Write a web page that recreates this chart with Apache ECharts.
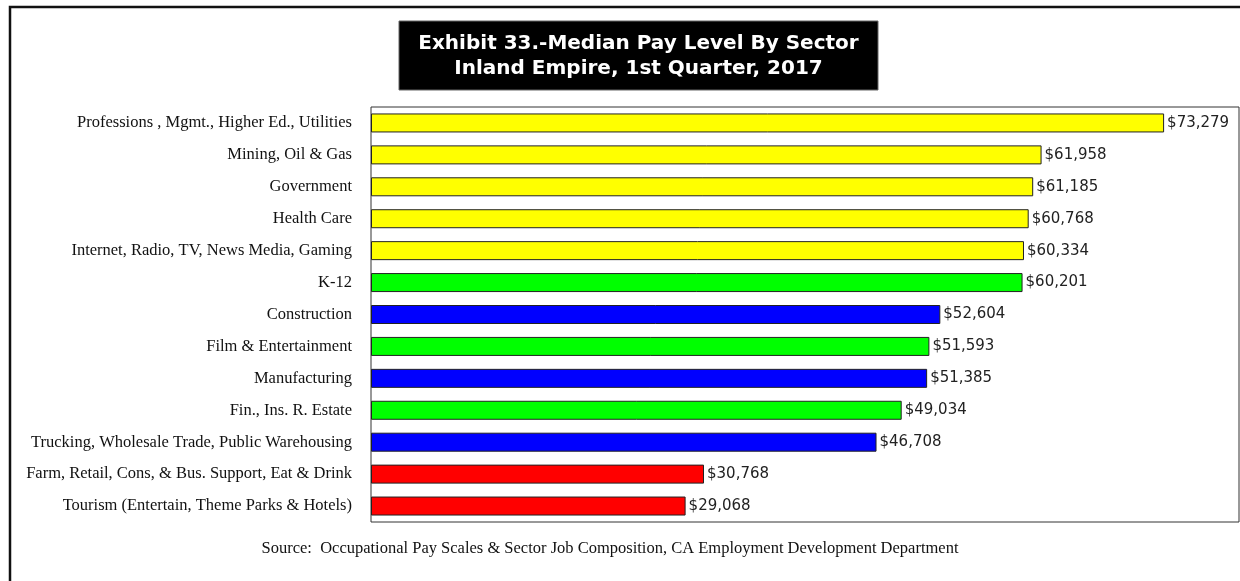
<!DOCTYPE html>
<html>
<head>
<meta charset="utf-8">
<script src="https://cdn.jsdelivr.net/npm/echarts@6/dist/echarts.min.js"></script>
<style>
html,body{margin:0;padding:0;background:#fff;}
#chart{width:1240px;height:581px;}
</style>
</head>
<body>
<div id="chart"></div>
<script>
// ---- data ----
var categories = [
  'Professions , Mgmt., Higher Ed., Utilities',
  'Mining, Oil & Gas',
  'Government',
  'Health Care',
  'Internet, Radio, TV, News Media, Gaming',
  'K-12',
  'Construction',
  'Film & Entertainment',
  'Manufacturing',
  'Fin., Ins. R. Estate',
  'Trucking, Wholesale Trade, Public Warehousing',
  'Farm, Retail, Cons, & Bus. Support, Eat & Drink',
  'Tourism (Entertain, Theme Parks & Hotels)'
];
var medianPay = [73279, 61958, 61185, 60768, 60334, 60201, 52604, 51593, 51385, 49034, 46708, 30768, 29068];
var sectorGroup = ['high', 'high', 'high', 'high', 'high', 'mid', 'low', 'mid', 'low', 'mid', 'low', 'lowest', 'lowest'];
var titleLines = ['Exhibit 33.-Median Pay Level By Sector', 'Inland Empire, 1st Quarter, 2017'];
var sourceText = 'Source:  Occupational Pay Scales & Sector Job Composition, CA Employment Development Department';

// ---- styles ----
var groupColors = { high: '#FFFF00', mid: '#00FF00', low: '#0000FF', lowest: '#FF0000' };

function fmt(v) {
  return '$' + String(v).replace(/\B(?=(\d{3})+(?!\d))/g, ',');
}

var chart = echarts.init(document.getElementById('chart'), null, { renderer: 'canvas' });

var barData = medianPay.map(function (v, i) {
  return { value: v, itemStyle: { color: groupColors[sectorGroup[i]] } };
});

chart.setOption({
  animation: false,
  backgroundColor: '#ffffff',
  grid: {
    left: 371, top: 107, width: 868, height: 415,
    show: true, borderColor: '#333333', borderWidth: 1, backgroundColor: 'transparent',
    containLabel: false
  },
  xAxis: {
    type: 'value', min: 0, max: 80200, show: false,
    splitLine: { show: false }
  },
  yAxis: {
    type: 'category', data: categories, inverse: true,
    axisLine: { show: false }, axisTick: { show: false },
    axisLabel: {
      margin: 19, color: '#111', fontFamily: 'Liberation Serif', fontSize: 16.5
    }
  },
  series: [{
    type: 'bar',
    data: barData,
    barWidth: 19,
    itemStyle: { borderColor: '#222', borderWidth: 1 },
    label: {
      show: true, position: 'right', distance: 3,
      fontFamily: 'DejaVu Sans', fontSize: 15, color: '#222',
      formatter: function (p) { return fmt(p.value); }
    }
  }],
  graphic: [
    {
      type: 'rect', shape: { x: 10, y: 7, width: 1240, height: 600 },
      style: { fill: 'none', stroke: '#111', lineWidth: 2.5 }, silent: true
    },
    {
      type: 'rect', shape: { x: 399, y: 21, width: 479, height: 69 },
      style: { fill: '#000', stroke: '#666', lineWidth: 1 }
    },
    {
      type: 'text', x: 638.5, y: 44,
      style: { text: titleLines[0], fill: '#fff', font: 'bold 20px "DejaVu Sans"', textAlign: 'center', textVerticalAlign: 'middle' }
    },
    {
      type: 'text', x: 638.5, y: 69,
      style: { text: titleLines[1], fill: '#fff', font: 'bold 20px "DejaVu Sans"', textAlign: 'center', textVerticalAlign: 'middle' }
    },
    {
      type: 'text', x: 610, y: 549,
      style: { text: sourceText, fill: '#111', font: '16.5px "Liberation Serif"', textAlign: 'center', textVerticalAlign: 'middle' }
    }
  ]
});
</script>
</body>
</html>
